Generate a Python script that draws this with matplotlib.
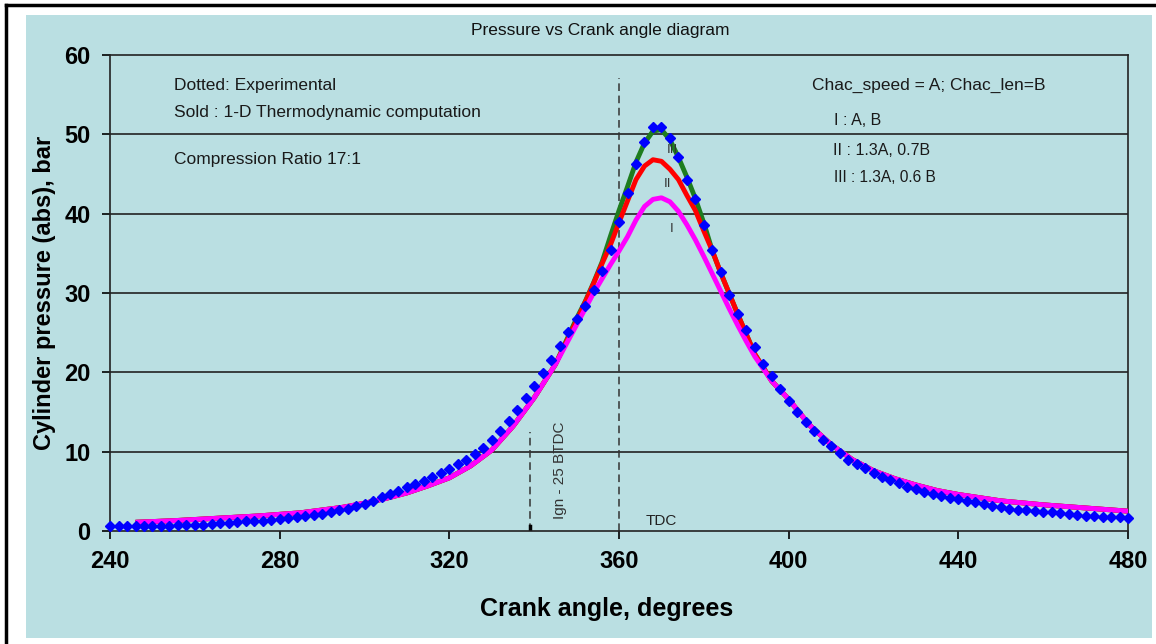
import matplotlib
matplotlib.use("Agg")
import matplotlib.pyplot as plt
from matplotlib.patches import Rectangle
from matplotlib.lines import Line2D

plt.rcParams['font.family'] = ['Liberation Sans', 'DejaVu Sans']

# ---- experimental (dotted) data, every 2 degrees ----
exp_angle = list(range(240, 482, 2))
exp_p = [0.6, 0.6, 0.6, 0.6, 0.6, 0.6, 0.6, 0.6, 0.7, 0.7,
         0.8, 0.8, 0.9, 1.0, 1.0, 1.1, 1.2, 1.2, 1.3, 1.4,
         1.5, 1.6, 1.7, 1.9, 2.0, 2.2, 2.4, 2.6, 2.8, 3.1,
         3.4, 3.8, 4.3, 4.7, 5.1, 5.5, 5.9, 6.3, 6.8, 7.3,
         7.8, 8.4, 9.0, 9.7, 10.5, 11.5, 12.6, 13.9, 15.3, 16.8,
         18.3, 19.9, 21.6, 23.3, 25.1, 26.7, 28.3, 30.4, 32.8, 35.4,
         38.9, 42.6, 46.3, 49.0, 50.9, 50.9, 49.5, 47.1, 44.3, 41.8,
         38.6, 35.4, 32.6, 29.8, 27.4, 25.3, 23.2, 21.1, 19.5, 17.9,
         16.4, 15.0, 13.7, 12.6, 11.5, 10.7, 9.8, 8.9, 8.4, 7.9,
         7.3, 6.8, 6.4, 6.0, 5.5, 5.3, 4.9, 4.7, 4.4, 4.2,
         4.0, 3.8, 3.6, 3.4, 3.2, 3.0, 2.8, 2.7, 2.6, 2.5,
         2.4, 2.4, 2.3, 2.1, 2.0, 1.9, 1.9, 1.8, 1.8, 1.7, 1.6]

# ---- 1-D thermodynamic computation (solid) ----
calc_angle = [246, 255, 265, 275, 285, 295, 300, 305, 310, 315, 320, 325, 330,
              335, 340, 345, 350, 352, 354, 356, 358, 360, 362, 364, 366, 368,
              370, 372, 374, 376, 378, 380, 382, 384, 386, 388, 390, 392, 396,
              400, 405, 410, 415, 420, 425, 430, 435, 440, 450, 460, 470, 480]
tail_lo = [1.1, 1.3, 1.6, 1.9, 2.3, 3.0, 3.5, 4.1, 4.8, 5.7, 6.7, 8.2, 10.2,
           13.2, 16.8, 21.0]
tail_hi = [18.9, 16.6, 13.3, 10.9, 9.0, 7.6, 6.6, 5.8, 5.1, 4.6, 3.8, 3.3, 2.9, 2.5]
p_I = tail_lo + [26.0, 28.0, 30.0, 31.8, 33.6, 35.3, 37.1, 39.2, 40.9, 41.8,
                 42.0, 41.5, 40.3, 38.6, 36.7, 34.6, 32.4, 30.2, 28.0, 25.9,
                 23.9, 22.0] + tail_hi
p_II = tail_lo + [26.5, 28.8, 31.2, 33.7, 36.1, 38.9, 41.6, 44.3, 46.0, 46.8,
                  46.6, 45.6, 44.3, 42.3, 40.4, 37.8, 35.3, 32.5, 29.9, 27.3,
                  24.8, 22.3] + tail_hi
p_III = tail_lo + [26.8, 28.9, 31.3, 33.9, 37.2, 40.4, 43.4, 46.5, 48.9, 50.4,
                   50.6, 49.3, 47.1, 44.6, 41.9, 38.8, 35.3, 32.5, 29.9, 27.3,
                   24.8, 22.3] + tail_hi

ign_angle, ign_top = 339, 12.5
tdc_angle, tdc_top = 360, 57.1

BG = '#badfe2'
fig = plt.figure(figsize=(11.56, 6.44), dpi=100)
fig.patches.append(Rectangle((0.0225, 0.0093), 0.974, 0.9674, transform=fig.transFigure,
                             facecolor=BG, edgecolor='none', zorder=-10))
fig.lines.append(Line2D([0.0052, 0.0052], [0, 0.9922], transform=fig.transFigure, color='black', lw=2.5))
fig.lines.append(Line2D([0.0052, 1.0], [0.9922, 0.9922], transform=fig.transFigure, color='black', lw=2.5))

ax = fig.add_axes([0.0952, 0.1755, 0.8806, 0.7391])
ax.set_facecolor(BG)
ax.set_xlim(240, 480)
ax.set_ylim(0, 60)
ax.set_xticks(range(240, 481, 40))
ax.set_yticks(range(0, 61, 10))
for y in range(10, 60, 10):
    ax.axhline(y, color='#222222', lw=1.2, zorder=1)
for s in ax.spines.values():
    s.set_color('#222222'); s.set_linewidth(1.2)
ax.tick_params(direction='out', length=6, width=1.2, labelsize=17, pad=8)
for lab in ax.get_xticklabels() + ax.get_yticklabels():
    lab.set_fontweight('bold')

ax.plot(calc_angle, p_III, color='#1e7d1e', lw=3.5, zorder=3, solid_capstyle='butt')
ax.plot(calc_angle, p_II, color='#ff0000', lw=3.5, zorder=4, solid_capstyle='butt')
ax.plot(calc_angle, p_I, color='#ff00ff', lw=3.5, zorder=5, solid_capstyle='butt')
ax.plot(exp_angle, exp_p, ls='none', marker='D', ms=5.5, color='#0000ff', zorder=6, clip_on=False)

ax.plot([tdc_angle, tdc_angle], [0, tdc_top], color='#333333', lw=1.1, ls=(0, (5, 3)), zorder=2)
ax.plot([ign_angle, ign_angle], [0, ign_top], color='#333333', lw=1.1, ls=(0, (5, 3)), zorder=2)
ax.plot([ign_angle, ign_angle], [0, 0.6], color='black', lw=2.5, zorder=2)

ax.set_xlabel('Crank angle, degrees', fontsize=18, fontweight='bold')
ax.xaxis.set_label_coords(0.488, -0.138)
ax.set_ylabel('Cylinder pressure (abs), bar', fontsize=17, fontweight='bold', labelpad=6)
fig.text(0.519, 0.953, 'Pressure vs Crank angle diagram', fontsize=12.5, ha='center', va='center', color='#111111')

tc = '#1a1a1a'
ax.text(255.1, 56.2, 'Dotted: Experimental', fontsize=12.5, va='center', color=tc)
ax.text(255.1, 52.7, 'Sold : 1-D Thermodynamic computation', fontsize=12.5, va='center', color=tc)
ax.text(255.1, 46.8, 'Compression Ratio 17:1', fontsize=12.5, va='center', color=tc)
ax.text(405.5, 56.2, 'Chac_speed = A; Chac_len=B', fontsize=12.5, va='center', color=tc)
ax.text(410.6, 51.7, 'I : A, B', fontsize=11.5, va='center', color=tc)
ax.text(410.4, 48.0, 'II : 1.3A, 0.7B', fontsize=11.5, va='center', color=tc)
ax.text(410.6, 44.5, 'III : 1.3A, 0.6 B', fontsize=11.2, va='center', color=tc)
ax.text(372.5, 48.0, 'III', fontsize=9.5, ha='center', va='center', color='#333333', zorder=7)
ax.text(371.5, 43.7, 'II', fontsize=9.5, ha='center', va='center', color='#333333', zorder=7)
ax.text(372.3, 38.1, 'I', fontsize=9.5, ha='center', va='center', color='#333333', zorder=7)
ax.text(346.1, 7.7, 'Ign - 25 BTDC', fontsize=11, rotation=90, ha='center', va='center', color='#333333')
ax.text(369.9, 1.3, 'TDC', fontsize=11, ha='center', va='center', color='#222222')

fig.savefig('out.png', dpi=100)
